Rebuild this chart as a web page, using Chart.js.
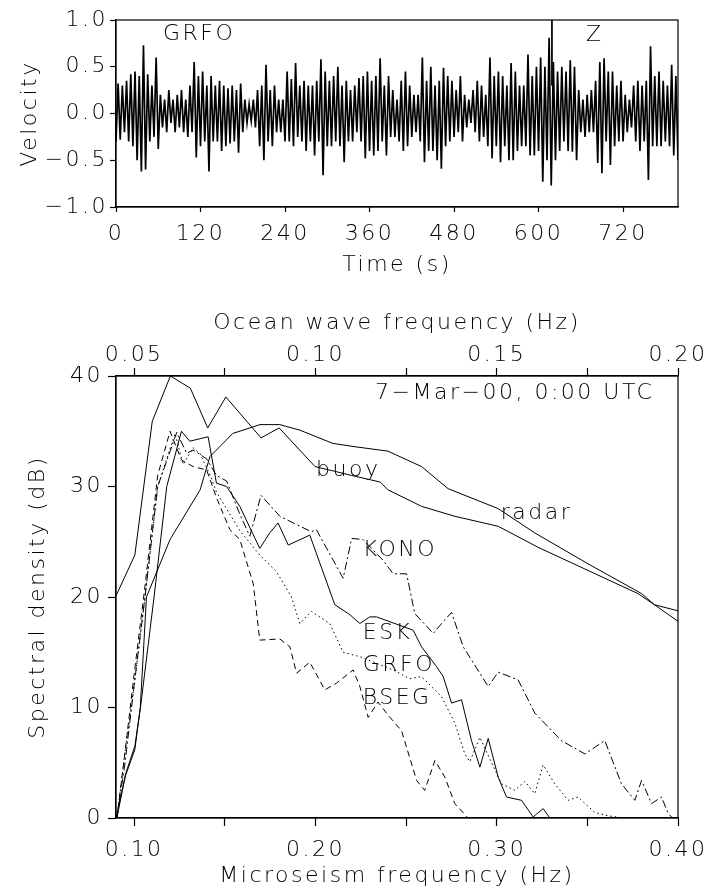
<!DOCTYPE html>
<html>
<head>
<meta charset="utf-8">
<script src="https://cdn.jsdelivr.net/npm/chart.js@4.4.1/dist/chart.umd.min.js"></script>
<style>
  body { margin: 0; background: #fff; }
  .box { position: absolute; left: 0; }
</style>
</head>
<body>
<div class="box" style="top:0"><canvas id="traceChart" width="715" height="290"></canvas></div>
<div class="box" style="top:290px"><canvas id="spectraChart" width="715" height="602"></canvas></div>
<script>
// seismogram: picked extrema of the GRFO Z trace, one every sampleStep seconds
var sampleStep = 3;
var traceVelocity = [
  -0.3, 0.32, -0.28, 0.3, -0.2, 0.35, -0.3, 0.42, -0.35, 0.45,
  -0.5, 0.4, -0.62, 0.73, -0.6, 0.42, -0.3, 0.3, -0.25, 0.6,
  -0.38, 0.2, -0.15, 0.15, -0.2, 0.25, -0.1, 0.15, -0.2, 0.2,
  -0.15, 0.25, -0.2, 0.15, -0.25, 0.3, -0.2, 0.55, -0.47, 0.4,
  -0.35, 0.45, -0.3, 0.3, -0.62, 0.4, -0.3, 0.3, -0.3, 0.35,
  -0.4, 0.3, -0.35, 0.27, -0.32, 0.3, -0.3, 0.25, -0.42, 0.32,
  -0.2, 0.15, -0.1, 0.1, -0.08, 0.15, -0.15, 0.25, -0.35, 0.3,
  -0.5, 0.52, -0.3, 0.25, -0.35, 0.3, -0.2, 0.15, -0.2, 0.15,
  -0.3, 0.45, -0.3, 0.37, -0.35, 0.54, -0.25, 0.3, -0.3, 0.35,
  -0.4, 0.3, -0.3, 0.3, -0.45, 0.35, -0.3, 0.58, -0.66, 0.45,
  -0.35, 0.35, -0.35, 0.4, -0.3, 0.5, -0.35, 0.3, -0.52, 0.35,
  -0.3, 0.25, -0.3, 0.3, -0.2, 0.38, -0.3, 0.4, -0.48, 0.45,
  -0.4, 0.35, -0.45, 0.4, -0.4, 0.59, -0.3, 0.3, -0.45, 0.4,
  -0.25, 0.25, -0.25, 0.15, -0.3, 0.35, -0.4, 0.45, -0.35, 0.3,
  -0.25, 0.2, -0.2, 0.2, -0.3, 0.6, -0.52, 0.35, -0.4, 0.5,
  -0.4, 0.3, -0.5, 0.35, -0.59, 0.49, -0.35, 0.4, -0.3, 0.35,
  -0.25, 0.25, -0.2, 0.4, -0.3, 0.2, -0.15, 0.15, -0.1, 0.25,
  -0.2, 0.35, -0.3, 0.3, -0.25, 0.2, -0.35, 0.6, -0.48, 0.4,
  -0.35, 0.45, -0.52, 0.4, -0.35, 0.3, -0.5, 0.54, -0.5, 0.45,
  -0.4, 0.3, -0.35, 0.3, -0.35, 0.63, -0.45, 0.4, -0.45, 0.5,
  -0.4, 0.6, -0.73, 0.5, -0.5, 0.81, -0.77, 0.55, -0.5, 0.45,
  -0.4, 0.5, -0.3, 0.45, -0.4, 0.57, -0.41, 0.5, -0.5, 0.25,
  -0.2, 0.15, -0.25, 0.2, -0.2, 0.25, -0.2, 0.35, -0.53, 0.55,
  -0.64, 0.59, -0.3, 0.45, -0.55, 0.45, -0.35, 0.3, -0.3, 0.35,
  -0.3, 0.2, -0.2, 0.15, -0.15, 0.3, -0.3, 0.35, -0.4, 0.3,
  -0.3, 0.35, -0.71, 0.72, -0.35, 0.4, -0.35, 0.45, -0.35, 0.35,
  -0.3, 0.3, -0.35, 0.52, -0.45, 0.4, -0.5
];
var markerTime = 619;
var timeTicks = [0, 120, 240, 360, 480, 600, 720];
var velocityTicks = [-1, -0.5, 0, 0.5, 1];
var velocityLabels = ['\u22121.0', '\u22120.5', '0.0', '0.5', '1.0'];

// spectra
var microTicks = [0.10, 0.15, 0.20, 0.25, 0.30, 0.35, 0.40];
var microLabels = ['0.10', '', '0.20', '', '0.30', '', '0.40'];
var oceanTicks = [0.05, 0.075, 0.10, 0.125, 0.15, 0.175, 0.20];
var oceanLabels = ['0.05', '', '0.10', '', '0.15', '', '0.20'];
var dbTicks = [0, 10, 20, 30, 40];

var eskFreq = [0.0905, 0.0953, 0.1004, 0.1035, 0.111, 0.118, 0.1261, 0.1307, 0.1408, 0.1454, 0.151, 0.1583, 0.1693, 0.1748, 0.1794, 0.185, 0.1969, 0.2107, 0.219, 0.2245, 0.23, 0.2337, 0.2539, 0.2585, 0.2668, 0.2705, 0.2751, 0.2806, 0.2861, 0.2907, 0.2953, 0.3008, 0.3054, 0.3137, 0.3201, 0.3256, 0.3293, 0.40];
var eskDb = [0, 4, 6.5, 10, 20, 30, 35.0, 34.1, 34.5, 30.3, 30.0, 28.2, 24.4, 25.8, 26.7, 24.7, 25.6, 19.3, 18.4, 17.6, 18.2, 18.2, 17.0, 15.5, 13.7, 12.8, 10.4, 10.7, 7.0, 4.6, 7.2, 3.7, 1.9, 1.6, 0.1, 0.85, 0, 0];

var grfoFreq = [0.0905, 0.095, 0.1, 0.106, 0.113, 0.1226, 0.127, 0.1325, 0.1363, 0.142, 0.1454, 0.1583, 0.1693, 0.1785, 0.1868, 0.1914, 0.1978, 0.2079, 0.2153, 0.2245, 0.2429, 0.252, 0.2585, 0.2695, 0.2769, 0.2824, 0.2852, 0.2907, 0.3026, 0.31, 0.3155, 0.321, 0.3256, 0.332, 0.3394, 0.3449, 0.3541, 0.3615, 0.37, 0.40];
var grfoDb = [0, 6, 12, 20, 30, 34.8, 32, 33.5, 33, 31, 29.5, 26, 23.8, 22.3, 20.0, 17.6, 18.7, 17.6, 15.0, 14.6, 13.4, 12.6, 12.8, 11.0, 8.6, 5.8, 5.1, 7.3, 3.1, 2.5, 3.3, 2.2, 4.8, 3.1, 1.6, 1.9, 0.5, 0.2, 0, 0];

var bsegFreq = [0.0905, 0.095, 0.1, 0.106, 0.113, 0.1198, 0.1261, 0.1325, 0.14, 0.1454, 0.1528, 0.1583, 0.1657, 0.1693, 0.1804, 0.1859, 0.1896, 0.1969, 0.2052, 0.2116, 0.2208, 0.2245, 0.2291, 0.2345, 0.2401, 0.2475, 0.2558, 0.2603, 0.2659, 0.2714, 0.2769, 0.2842, 0.40];
var bsegDb = [0, 6, 13, 21, 31, 35.0, 32.4, 31.8, 31.5, 29, 26.1, 25.2, 21.2, 16.1, 16.2, 15.5, 13.1, 14.1, 11.6, 12.2, 13.4, 11.9, 9.1, 10.5, 9.3, 7.9, 3.4, 2.5, 5.2, 3.7, 1.3, 0, 0];

var konoFreq = [0.0905, 0.095, 0.1, 0.106, 0.113, 0.1235, 0.129, 0.1325, 0.14, 0.1454, 0.151, 0.1583, 0.1638, 0.170, 0.1804, 0.1978, 0.2005, 0.2153, 0.22, 0.2263, 0.2374, 0.2429, 0.2503, 0.2548, 0.265, 0.2696, 0.2751, 0.2815, 0.2953, 0.3008, 0.3118, 0.321, 0.3357, 0.3486, 0.3596, 0.3688, 0.3762, 0.3799, 0.3854, 0.3909, 0.3946, 0.397, 0.40];
var konoDb = [0, 5, 12, 20, 30, 34.9, 33, 33.3, 32.5, 31, 30.5, 27.5, 25.5, 29.2, 27.3, 25.9, 26.1, 21.7, 25.3, 25.2, 23.3, 22.1, 22.1, 18.5, 16.7, 17.6, 18.6, 15.5, 11.9, 13.2, 12.5, 9.5, 7.0, 5.8, 7.0, 3.1, 1.6, 3.4, 1.3, 1.9, 0.4, 0, 0];

// ocean wave spectra, on the ocean frequency axis
var buoyFreq = [0.045, 0.0502, 0.055, 0.060, 0.0655, 0.0703, 0.0753, 0.085, 0.090, 0.0999, 0.105, 0.110, 0.1179, 0.120, 0.1293, 0.1385, 0.1504, 0.1614, 0.1752, 0.189, 0.1935, 0.20];
var buoyDb = [20.1, 23.8, 35.9, 40.0, 38.9, 35.3, 38.1, 34.4, 35.3, 31.8, 31.4, 31.0, 30.4, 29.7, 28.2, 27.3, 26.4, 24.5, 22.4, 20.3, 19.3, 18.75];
var radarFreq = [0.045, 0.0476, 0.0502, 0.0517, 0.0534, 0.0599, 0.0682, 0.0709, 0.0772, 0.0847, 0.0902, 0.0957, 0.1048, 0.1109, 0.120, 0.1293, 0.1366, 0.1504, 0.1605, 0.1752, 0.190, 0.1935, 0.20];
var radarDb = [0, 3.8, 6.2, 10, 20, 25.2, 29.7, 32.7, 34.8, 35.6, 35.6, 35.1, 33.9, 33.6, 33.2, 31.8, 29.8, 28.0, 25.8, 23.0, 20.3, 19.3, 17.8];

Chart.defaults.font.family = '"DejaVu Sans", sans-serif';
Chart.defaults.font.size = 22;
Chart.defaults.font.weight = 300;
Chart.defaults.color = '#000';

function xy(xs, ys) {
  return xs.map(function(x, i) { return {x: x, y: ys[i]}; });
}

function line(points, dash, axis, width) {
  return {
    data: points,
    xAxisID: axis || 'x',
    borderColor: '#000',
    borderWidth: width || 1,
    borderDash: dash || [],
    pointRadius: 0,
    tension: 0,
    fill: false
  };
}

function fixedTicks(values, labels) {
  return {
    afterBuildTicks: function(scale) {
      scale.ticks = values.map(function(v) { return {value: v}; });
    },
    callback: function(value, index) { return labels[index]; }
  };
}

// the plotting font of the original is wide, so space the letters out
var spacingPlugin = {
  id: 'spacing',
  beforeDraw: function(chart) { chart.ctx.letterSpacing = '2.5px'; }
};

var framePlugin = {
  id: 'frame',
  afterDatasetsDraw: function(chart) {
    var a = chart.chartArea, ctx = chart.ctx;
    ctx.save();
    ctx.strokeStyle = '#000';
    ctx.lineWidth = 1.2;
    ctx.strokeRect(a.left, a.top, a.right - a.left, a.bottom - a.top);
    ctx.restore();
  }
};

var notesPlugin = {
  id: 'notes',
  afterDatasetsDraw: function(chart, args, opts) {
    var ctx = chart.ctx;
    ctx.save();
    ctx.fillStyle = '#000';
    ctx.font = '300 22px "DejaVu Sans"';
    ctx.textBaseline = 'middle';
    opts.items.forEach(function(n) {
      ctx.textAlign = n.align || 'center';
      ctx.fillText(n.text, chart.scales[n.axis || 'x'].getPixelForValue(n.x), chart.scales.y.getPixelForValue(n.y));
    });
    ctx.restore();
  }
};

function axisStyle(tickLength) {
  return {
    grid: { drawOnChartArea: false, tickLength: tickLength, color: '#000', tickColor: '#000', tickWidth: 1.2 },
    border: { color: '#000', width: 1.2 }
  };
}

var tTicks = fixedTicks(timeTicks, timeTicks.map(String));
var vTicks = fixedTicks(velocityTicks, velocityLabels);

new Chart(document.getElementById('traceChart'), {
  type: 'line',
  data: {
    datasets: [
      line(traceVelocity.map(function(v, i) { return {x: i * sampleStep, y: v}; }), [], 'x', 1.7),
      line([{x: markerTime, y: 1}, {x: markerTime, y: 0.3}])
    ]
  },
  options: {
    responsive: false,
    animation: false,
    events: [],
    layout: { padding: { top: 20, right: 37, left: 0, bottom: 0 } },
    plugins: {
      legend: { display: false },
      tooltip: { enabled: false },
      notes: { items: [
        { text: 'GRFO', x: 118, y: 0.85 },
        { text: 'Z', x: 680, y: 0.84 }
      ] }
    },
    scales: {
      x: Object.assign({
        type: 'linear', min: 0, max: 798,
        afterFit: function(s) { s.height = 83; },
        afterBuildTicks: tTicks.afterBuildTicks,
        ticks: { callback: tTicks.callback, padding: 9, autoSkip: false, maxRotation: 0 },
        title: { display: true, text: 'Time (s)', padding: { top: 0, bottom: 12 } }
      }, axisStyle(5)),
      y: Object.assign({
        min: -1, max: 1,
        afterFit: function(s) { s.width = 116; },
        afterBuildTicks: vTicks.afterBuildTicks,
        ticks: { callback: vTicks.callback, padding: 2 },
        title: { display: true, text: 'Velocity', padding: { top: 17, bottom: 0 } }
      }, axisStyle(6))
    }
  },
  plugins: [spacingPlugin, framePlugin, notesPlugin]
});

var mTicks = fixedTicks(microTicks, microLabels);
var oTicks = fixedTicks(oceanTicks, oceanLabels);
var dTicks = fixedTicks(dbTicks, dbTicks.map(String));

new Chart(document.getElementById('spectraChart'), {
  type: 'line',
  data: {
    datasets: [
      line(xy(buoyFreq, buoyDb), [], 'x2'),
      line(xy(radarFreq, radarDb), [], 'x2'),
      line(xy(eskFreq, eskDb)),
      line(xy(grfoFreq, grfoDb), [1.5, 3]),
      line(xy(bsegFreq, bsegDb), [6, 4]),
      line(xy(konoFreq, konoDb), [8, 3, 2, 3])
    ]
  },
  options: {
    responsive: false,
    animation: false,
    events: [],
    layout: { padding: { top: 0, right: 37, left: 0, bottom: 0 } },
    plugins: {
      legend: { display: false },
      tooltip: { enabled: false },
      notes: { items: [
        { text: '7\u2212Mar\u221200, 0:00 UTC', x: 0.387, y: 38.4, align: 'right' },
        { text: 'buoy', x: 0.2181, y: 31.5 },
        { text: 'radar', x: 0.3219, y: 27.6 },
        { text: 'KONO', x: 0.2466, y: 24.2 },
        { text: 'ESK', x: 0.2261, y: 16.7, align: 'left' },
        { text: 'GRFO', x: 0.2261, y: 13.8, align: 'left' },
        { text: 'BSEG', x: 0.2261, y: 10.8, align: 'left' }
      ] }
    },
    scales: {
      x: Object.assign({
        type: 'linear', min: 0.09, max: 0.40,
        afterFit: function(s) { s.height = 74; },
        afterBuildTicks: mTicks.afterBuildTicks,
        ticks: { callback: mTicks.callback, padding: 11, autoSkip: false, maxRotation: 0 },
        title: { display: true, text: 'Microseism frequency (Hz)', padding: { top: 0, bottom: 3 } }
      }, axisStyle(8)),
      x2: Object.assign({
        type: 'linear', position: 'top', min: 0.045, max: 0.20,
        afterFit: function(s) { s.height = 86; },
        afterBuildTicks: oTicks.afterBuildTicks,
        ticks: { callback: oTicks.callback, padding: 0, autoSkip: false, maxRotation: 0 },
        title: { display: true, text: 'Ocean wave frequency (Hz)', padding: { top: 20, bottom: 0 } }
      }, axisStyle(8)),
      y: Object.assign({
        min: 0, max: 40,
        afterFit: function(s) { s.width = 116; },
        afterBuildTicks: dTicks.afterBuildTicks,
        ticks: { callback: dTicks.callback, padding: 5 },
        title: { display: true, text: 'Spectral density (dB)', padding: { top: 25, bottom: 0 } }
      }, axisStyle(8))
    }
  },
  plugins: [spacingPlugin, framePlugin, notesPlugin]
});
</script>
</body>
</html>
